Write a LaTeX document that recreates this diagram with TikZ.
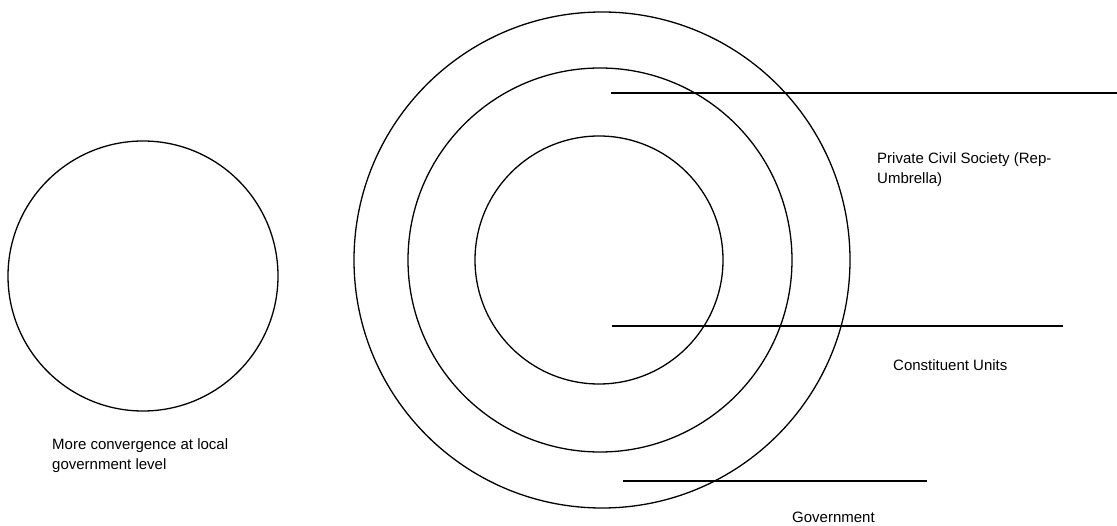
\documentclass[tikz,border=0pt]{standalone}
\usepackage{fontspec}
\setmainfont{Liberation Sans}
\usepackage{tikz}

\begin{document}
\begin{tikzpicture}[x=1pt,y=-1pt,
  ring/.style={circle,draw,line width=1.3pt,inner sep=0pt},
  leader/.style={line width=1.3pt},
  label/.style={anchor=west,align=left,inner sep=0pt,font=\fontsize{15}{20}\selectfont}]
  \useasboundingbox (0,0) rectangle (1117,526);
  % circles
  \node[ring,minimum size=270pt] (local) at (143,276) {};
  \node[ring,minimum size=496pt] (gov) at (602,260) {};
  \node[ring,minimum size=384pt] (civil) at (600,260) {};
  \node[ring,minimum size=248pt] (units) at (599,260) {};
  % leader lines
  \coordinate (c0) at (611,93);
  \coordinate (c1) at (1117,93);
  \coordinate (u0) at (612,326);
  \coordinate (u1) at (1063,326);
  \coordinate (g0) at (623,481);
  \coordinate (g1) at (927,481);
  \draw[leader] (c0) -- (c1);
  \draw[leader] (u0) -- (u1);
  \draw[leader] (g0) -- (g1);
  % labels
  \node[label] (civiltxt) at (877,170) {Private Civil Society (Rep-\\Umbrella)};
  \node[label] (unitstxt) at (893,365) {Constituent Units};
  \node[label] (govtxt) at (792,517) {Government};
  \node[label] (localtxt) at (52,456) {More convergence at local\\government level};
\end{tikzpicture}
\end{document}
